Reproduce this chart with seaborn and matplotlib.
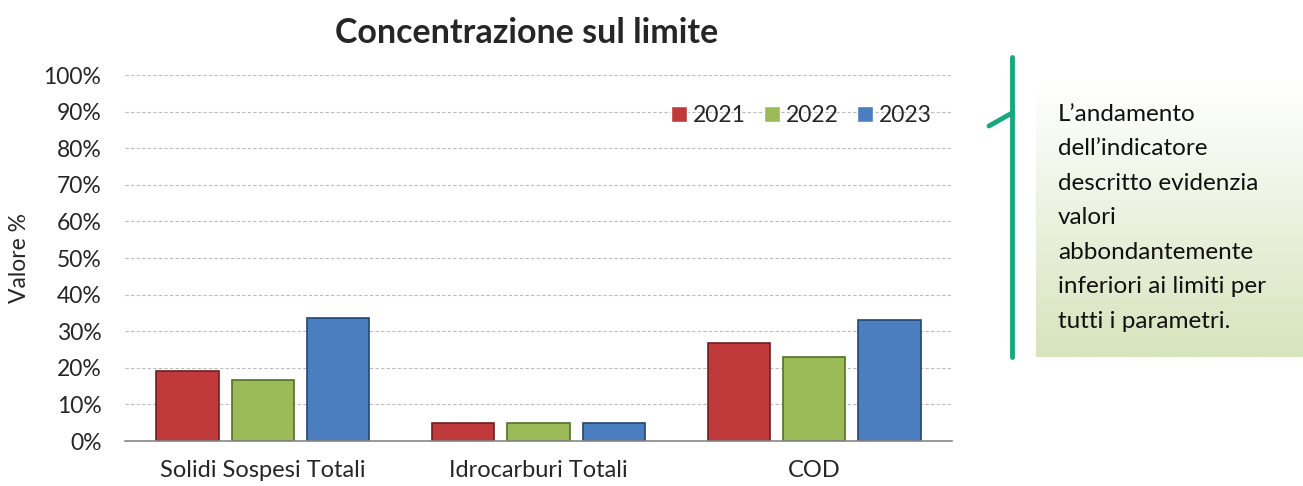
import numpy as np
import pandas as pd
import seaborn as sns
import matplotlib.pyplot as plt
from matplotlib.lines import Line2D

categories = ['Solidi Sospesi Totali', 'Idrocarburi Totali', 'COD']
years = ['2021', '2022', '2023']
v2021 = [19.1, 4.9, 26.8]
v2022 = [16.7, 4.9, 22.9]
v2023 = [33.6, 4.9, 33.1]
yticks = list(range(0, 101, 10))

note = ("L\u2019andamento\ndell\u2019indicatore\ndescritto evidenzia\nvalori\n"
        "abbondantemente\ninferiori ai limiti per\ntutti i parametri.")

colors = ['#C0393B', '#9BBB59', '#4A7EBF']
edges = ['#6E1F1F', '#55702A', '#24466F']

df = pd.DataFrame({
    'categoria': categories * 3,
    'anno': [y for y in years for _ in categories],
    'valore': v2021 + v2022 + v2023,
})

sns.set_theme(style='white')
plt.rcParams['font.family'] = ['Lato', 'DejaVu Sans']

fig = plt.figure(figsize=(13.03, 4.86), dpi=100)
ax = fig.add_axes([125 / 1303, 1 - 441 / 486, 827 / 1303, 366 / 486])

sns.barplot(data=df, x='categoria', y='valore', hue='anno', palette=colors,
            width=0.82, gap=0.17, ax=ax, saturation=1, legend=True)

# darker edges per year
for cont, ec in zip(ax.containers, edges):
    for p in cont:
        p.set_edgecolor(ec)
        p.set_linewidth(1.2)

ax.set_ylim(0, 100)
ax.set_yticks(yticks)
ax.set_yticklabels([f'{t}%' for t in yticks], fontsize=16.5)
ax.tick_params(axis='x', labelsize=17, length=0, pad=14)
ax.tick_params(axis='y', length=0, pad=17)
ax.set_xlabel('')
ax.set_ylabel('Valore %', fontsize=16.5)
ax.yaxis.set_label_coords(-(125 - 30) / 827, 0.5)
ax.yaxis.grid(True, linestyle=(0, (3, 2)), color='#BBBBBB', linewidth=0.8)
ax.set_axisbelow(True)
for s in ['left', 'right', 'top']:
    ax.spines[s].set_visible(False)
ax.spines['bottom'].set_color('#888888')
ax.spines['bottom'].set_linewidth(1.2)

ax.set_title('Concentrazione sul limite', fontsize=24.5, fontweight='bold',
             pad=23, x=(527 - 125) / 827)

handles, labels = ax.get_legend_handles_labels()
ax.legend(handles, labels, ncol=3, frameon=False, loc='upper right',
          bbox_to_anchor=(1.0, 0.975), fontsize=16.5, handlelength=0.7,
          handleheight=0.7, handletextpad=0.25, columnspacing=0.8)

# note box with gradient
bax = fig.add_axes([1036 / 1303, 1 - 357 / 486, 267 / 1303, 274 / 486])
grad = np.linspace(0, 1, 256).reshape(-1, 1)
top = np.array([1.0, 1.0, 1.0])
bot = np.array([0xD7, 0xE4, 0xBD]) / 255
img = top + (bot - top) * grad[:, :, None]
bax.imshow(img, aspect='auto', extent=[0, 1, 0, 1], origin='upper')
bax.axis('off')

fig.add_artist(Line2D([1012 / 1303, 1012 / 1303], [1 - 57 / 486, 1 - 357 / 486],
                      color='#14A97F', linewidth=3.5))
fig.add_artist(Line2D([989 / 1303, 1012 / 1303], [1 - 126 / 486, 1 - 113 / 486],
                      color='#14A97F', linewidth=3.5))

fig.text(1058 / 1303, 1 - 104 / 486, note, fontsize=17.5, va='top', ha='left',
         linespacing=1.79, color='#111111')

fig.savefig('out.png', dpi=100)
